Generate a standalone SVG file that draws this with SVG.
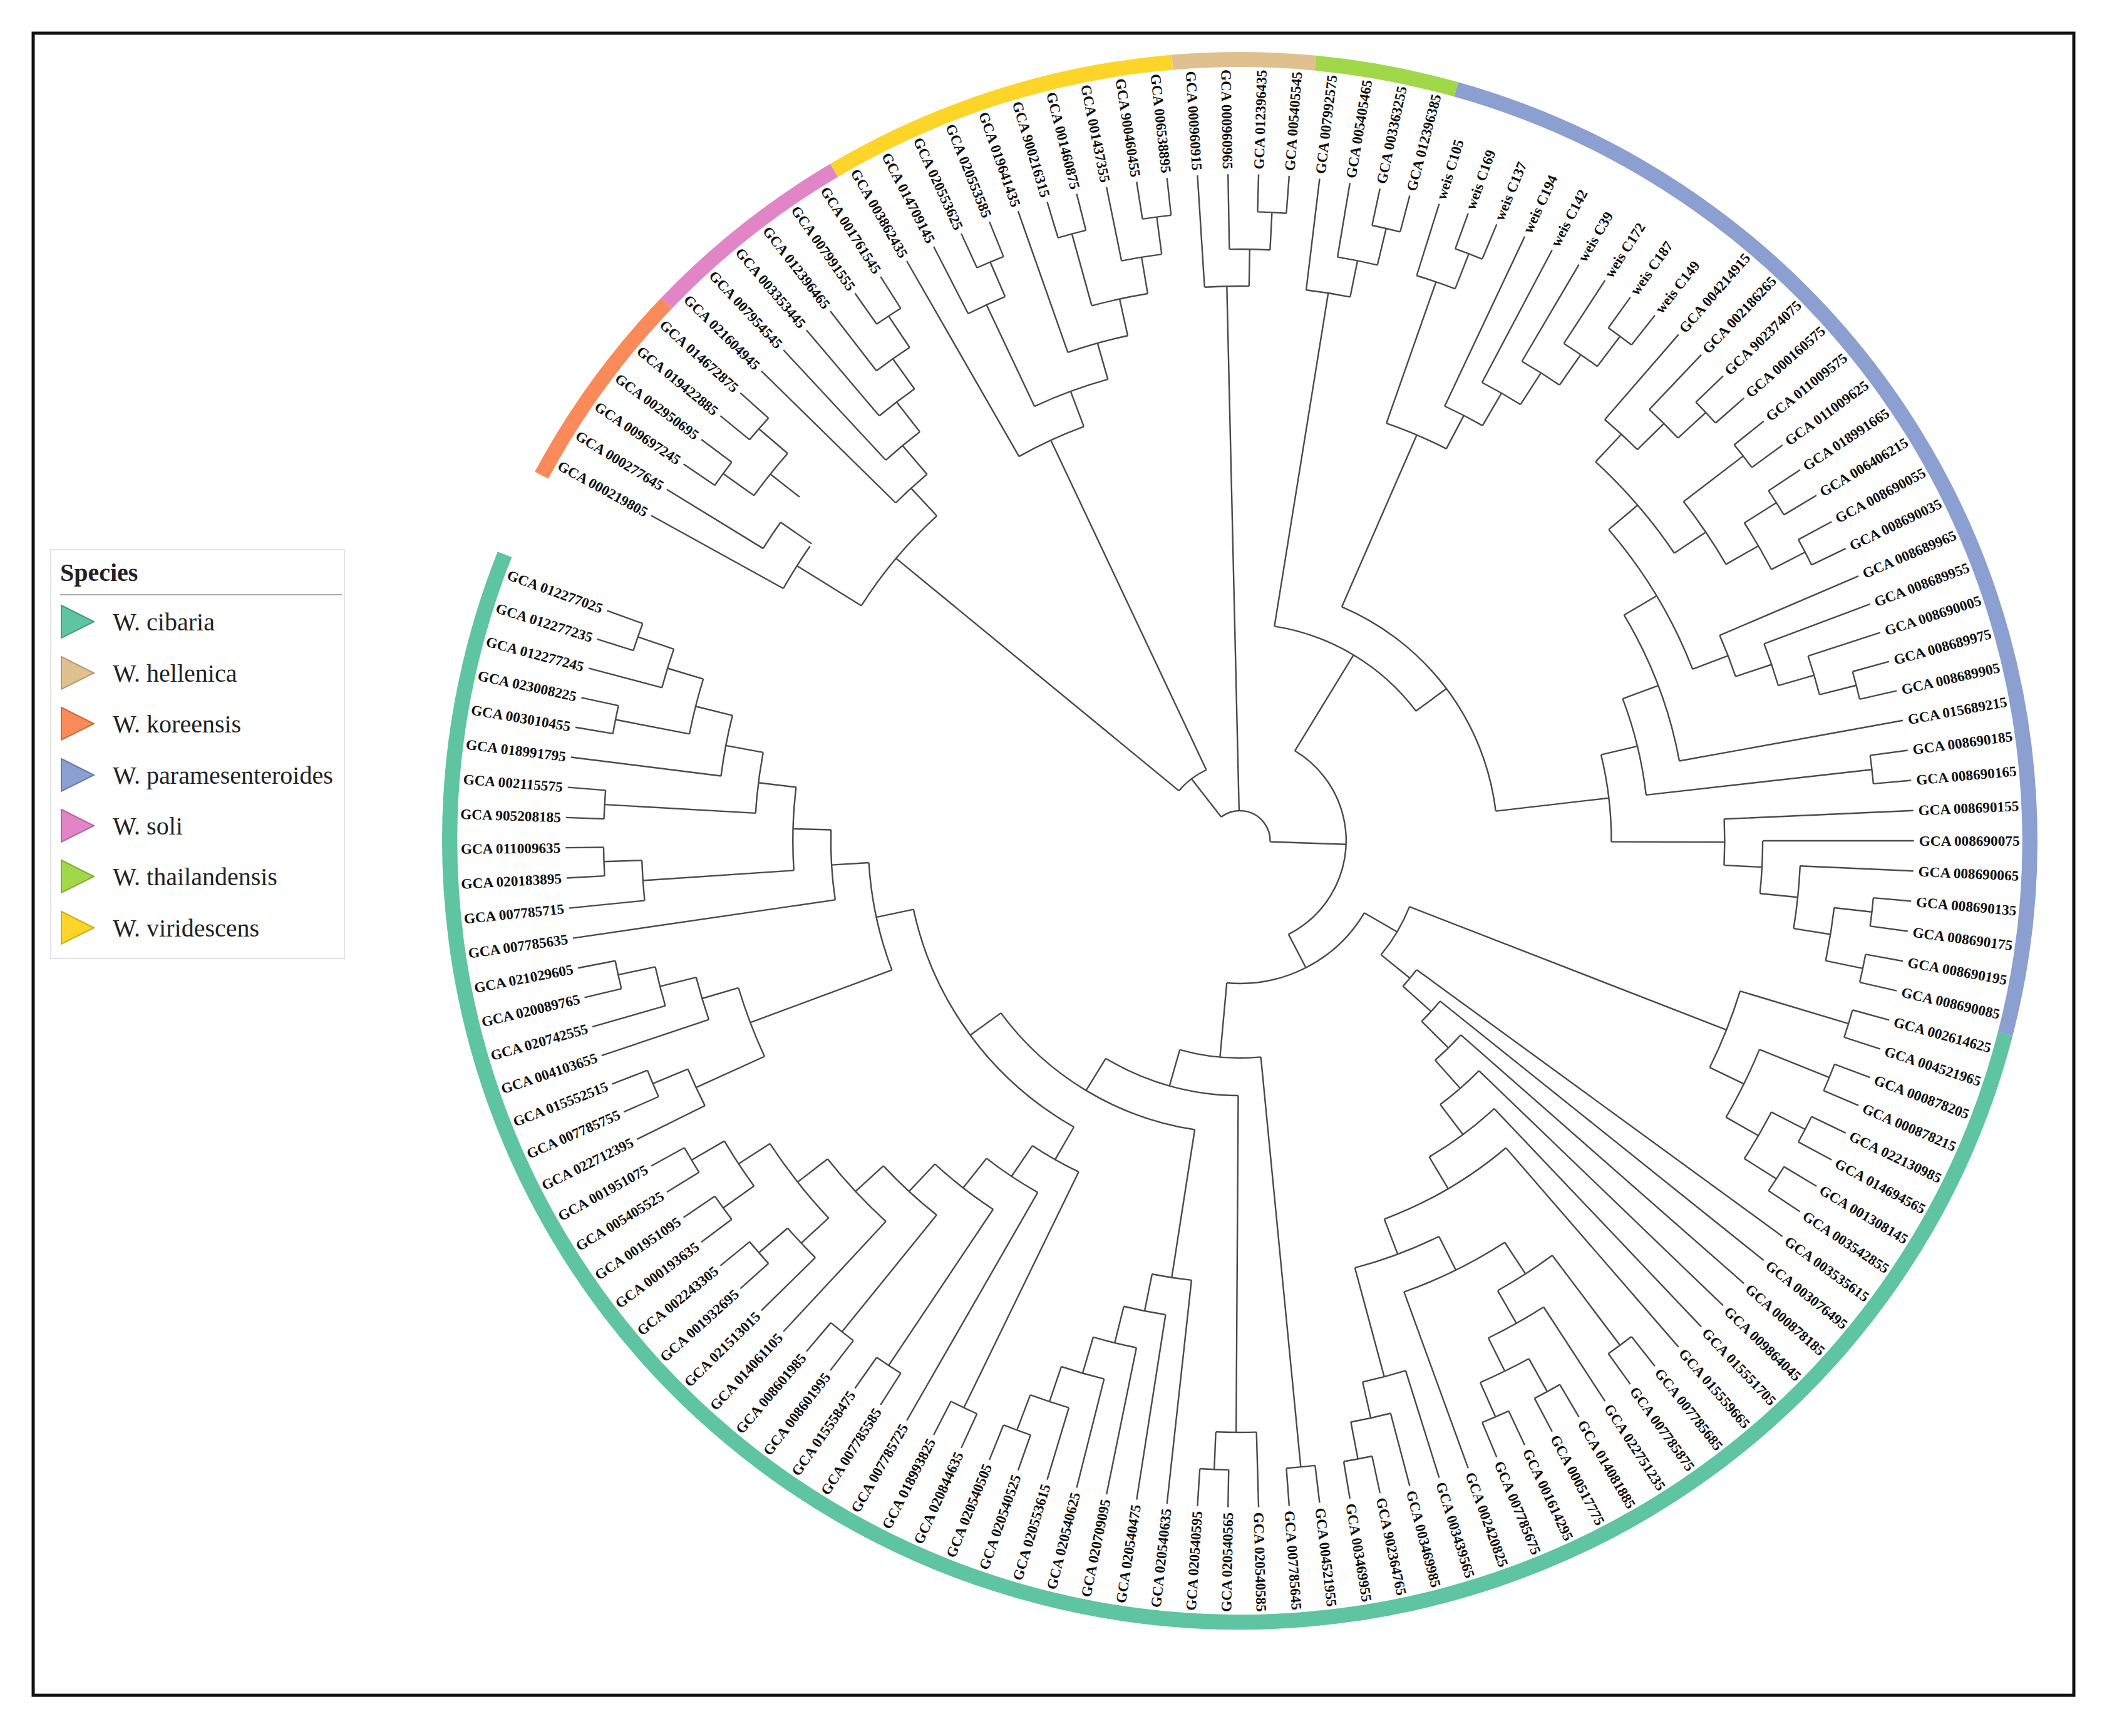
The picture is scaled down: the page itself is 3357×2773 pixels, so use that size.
<svg xmlns="http://www.w3.org/2000/svg" width="3357" height="2773" viewBox="0 0 3357 2773">
<style>
.t{font-family:"Liberation Serif","Times New Roman",serif;font-weight:bold;font-size:23px;fill:#111;dominant-baseline:central}
.l{text-anchor:end}
.lg{font-family:"Liberation Serif","Times New Roman",serif;font-size:40px;fill:#222}
</style>
<rect width="3357" height="2773" fill="#fff"/>
<rect x="53" y="53" width="3259" height="2655" fill="none" stroke="#111" stroke-width="5"/>
<g transform="translate(1980 1343) scale(1.011 1) rotate(200.2)">
<g id="ring" fill="none" stroke-width="24">
<circle r="1248" pathLength="360" stroke="#5ec4a1" stroke-dasharray="187.2 360" transform="rotate(-185.9)"/>
<circle r="1248" pathLength="360" stroke="#8b9fd0" stroke-dasharray="88.4 360" transform="rotate(-274.3)"/>
<circle r="1248" pathLength="360" stroke="#a0d84a" stroke-dasharray="10.4 360" transform="rotate(-284.7)"/>
<circle r="1248" pathLength="360" stroke="#dfc08f" stroke-dasharray="10.4 360" transform="rotate(-295.1)"/>
<circle r="1248" pathLength="360" stroke="#fdd528" stroke-dasharray="26 360" transform="rotate(-321.1)"/>
<circle r="1248" pathLength="360" stroke="#e185c6" stroke-dasharray="15.6 360" transform="rotate(-336.7)"/>
<circle r="1248" pathLength="360" stroke="#fa8a5a" stroke-dasharray="15.6 360" transform="rotate(-352.3)"/>
</g>
<g id="connectors" fill="none" stroke="#4a4a4a" stroke-width="2.4">
<path transform="rotate(0)" d="M1005 0H1065"/>
<path transform="rotate(-2.6)" d="M1005 0H1065"/>
<path transform="rotate(-5.2)" d="M945 0H1065"/>
<path transform="rotate(-7.8)" d="M1005 0H1065"/>
<path transform="rotate(-10.4)" d="M1005 0H1065"/>
<path transform="rotate(-13)" d="M826 0H1065"/>
<path transform="rotate(-15.6)" d="M1005 0H1065"/>
<path transform="rotate(-18.2)" d="M1005 0H1065"/>
<path transform="rotate(-20.8)" d="M1005 0H1065"/>
<path transform="rotate(-23.4)" d="M1005 0H1065"/>
<path transform="rotate(-26)" d="M945 0H1065"/>
<path transform="rotate(-28.6)" d="M646 0H1065"/>
<path transform="rotate(-31.2)" d="M1005 0H1065"/>
<path transform="rotate(-33.8)" d="M1005 0H1065"/>
<path transform="rotate(-36.4)" d="M945 0H1065"/>
<path transform="rotate(-39)" d="M886 0H1065"/>
<path transform="rotate(-41.6)" d="M1005 0H1065"/>
<path transform="rotate(-44.2)" d="M1005 0H1065"/>
<path transform="rotate(-46.8)" d="M945 0H1065"/>
<path transform="rotate(-49.4)" d="M1005 0H1065"/>
<path transform="rotate(-52)" d="M1005 0H1065"/>
<path transform="rotate(-54.6)" d="M1005 0H1065"/>
<path transform="rotate(-57.2)" d="M1005 0H1065"/>
<path transform="rotate(-59.8)" d="M1005 0H1065"/>
<path transform="rotate(-62.4)" d="M1005 0H1065"/>
<path transform="rotate(-65)" d="M945 0H1065"/>
<path transform="rotate(-67.6)" d="M826 0H1065"/>
<path transform="rotate(-70.2)" d="M1005 0H1065"/>
<path transform="rotate(-72.8)" d="M1005 0H1065"/>
<path transform="rotate(-75.4)" d="M1005 0H1065"/>
<path transform="rotate(-78)" d="M1005 0H1065"/>
<path transform="rotate(-80.6)" d="M646 0H1065"/>
<path transform="rotate(-83.2)" d="M1005 0H1065"/>
<path transform="rotate(-85.8)" d="M1005 0H1065"/>
<path transform="rotate(-88.4)" d="M1005 0H1065"/>
<path transform="rotate(-91)" d="M1005 0H1065"/>
<path transform="rotate(-93.6)" d="M945 0H1065"/>
<path transform="rotate(-96.2)" d="M886 0H1065"/>
<path transform="rotate(-98.8)" d="M826 0H1065"/>
<path transform="rotate(-101.4)" d="M766 0H1065"/>
<path transform="rotate(-104)" d="M706 0H1065"/>
<path transform="rotate(-106.6)" d="M1005 0H1065"/>
<path transform="rotate(-109.2)" d="M1005 0H1065"/>
<path transform="rotate(-111.8)" d="M945 0H1065"/>
<path transform="rotate(-114.4)" d="M1005 0H1065"/>
<path transform="rotate(-117)" d="M1005 0H1065"/>
<path transform="rotate(-119.6)" d="M1005 0H1065"/>
<path transform="rotate(-122.2)" d="M1005 0H1065"/>
<path transform="rotate(-124.8)" d="M945 0H1065"/>
<path transform="rotate(-127.4)" d="M886 0H1065"/>
<path transform="rotate(-130)" d="M766 0H1065"/>
<path transform="rotate(-132.6)" d="M1005 0H1065"/>
<path transform="rotate(-135.2)" d="M1005 0H1065"/>
<path transform="rotate(-137.8)" d="M1005 0H1065"/>
<path transform="rotate(-140.4)" d="M1005 0H1065"/>
<path transform="rotate(-143)" d="M886 0H1065"/>
<path transform="rotate(-145.6)" d="M1005 0H1065"/>
<path transform="rotate(-148.2)" d="M1005 0H1065"/>
<path transform="rotate(-150.8)" d="M646 0H1065"/>
<path transform="rotate(-153.4)" d="M587 0H1065"/>
<path transform="rotate(-156)" d="M527 0H1065"/>
<path transform="rotate(-158.6)" d="M467 0H1065"/>
<path transform="rotate(-161.2)" d="M407 0H1065"/>
<path transform="rotate(-163.8)" d="M347 0H1065"/>
<path transform="rotate(-166.4)" d="M1005 0H1065"/>
<path transform="rotate(-169)" d="M1005 0H1065"/>
<path transform="rotate(-171.6)" d="M1005 0H1065"/>
<path transform="rotate(-174.2)" d="M1005 0H1065"/>
<path transform="rotate(-176.8)" d="M1005 0H1065"/>
<path transform="rotate(-179.4)" d="M1005 0H1065"/>
<path transform="rotate(-182)" d="M1005 0H1065"/>
<path transform="rotate(-184.6)" d="M1005 0H1065"/>
<path transform="rotate(-187.2)" d="M1005 0H1065"/>
<path transform="rotate(-189.8)" d="M1005 0H1065"/>
<path transform="rotate(-192.4)" d="M1005 0H1065"/>
<path transform="rotate(-195)" d="M1005 0H1065"/>
<path transform="rotate(-197.6)" d="M886 0H1065"/>
<path transform="rotate(-200.2)" d="M826 0H1065"/>
<path transform="rotate(-202.8)" d="M766 0H1065"/>
<path transform="rotate(-205.4)" d="M1005 0H1065"/>
<path transform="rotate(-208)" d="M1005 0H1065"/>
<path transform="rotate(-210.6)" d="M706 0H1065"/>
<path transform="rotate(-213.2)" d="M1005 0H1065"/>
<path transform="rotate(-215.8)" d="M1005 0H1065"/>
<path transform="rotate(-218.4)" d="M945 0H1065"/>
<path transform="rotate(-221)" d="M886 0H1065"/>
<path transform="rotate(-223.6)" d="M826 0H1065"/>
<path transform="rotate(-226.2)" d="M1005 0H1065"/>
<path transform="rotate(-228.8)" d="M1005 0H1065"/>
<path transform="rotate(-231.4)" d="M1005 0H1065"/>
<path transform="rotate(-234)" d="M1005 0H1065"/>
<path transform="rotate(-236.6)" d="M1005 0H1065"/>
<path transform="rotate(-239.2)" d="M1005 0H1065"/>
<path transform="rotate(-241.8)" d="M1005 0H1065"/>
<path transform="rotate(-244.4)" d="M1005 0H1065"/>
<path transform="rotate(-247)" d="M945 0H1065"/>
<path transform="rotate(-249.6)" d="M886 0H1065"/>
<path transform="rotate(-252.2)" d="M1005 0H1065"/>
<path transform="rotate(-254.8)" d="M1005 0H1065"/>
<path transform="rotate(-257.4)" d="M945 0H1065"/>
<path transform="rotate(-260)" d="M886 0H1065"/>
<path transform="rotate(-262.6)" d="M826 0H1065"/>
<path transform="rotate(-265.2)" d="M766 0H1065"/>
<path transform="rotate(-267.8)" d="M1005 0H1065"/>
<path transform="rotate(-270.4)" d="M1005 0H1065"/>
<path transform="rotate(-273)" d="M945 0H1065"/>
<path transform="rotate(-275.6)" d="M1005 0H1065"/>
<path transform="rotate(-278.2)" d="M1005 0H1065"/>
<path transform="rotate(-280.8)" d="M945 0H1065"/>
<path transform="rotate(-283.4)" d="M886 0H1065"/>
<path transform="rotate(-286)" d="M1005 0H1065"/>
<path transform="rotate(-288.6)" d="M1005 0H1065"/>
<path transform="rotate(-291.2)" d="M945 0H1065"/>
<path transform="rotate(-293.8)" d="M886 0H1065"/>
<path transform="rotate(-296.4)" d="M1005 0H1065"/>
<path transform="rotate(-299)" d="M1005 0H1065"/>
<path transform="rotate(-301.6)" d="M945 0H1065"/>
<path transform="rotate(-304.2)" d="M1005 0H1065"/>
<path transform="rotate(-306.8)" d="M1005 0H1065"/>
<path transform="rotate(-309.4)" d="M826 0H1065"/>
<path transform="rotate(-312)" d="M1005 0H1065"/>
<path transform="rotate(-314.6)" d="M1005 0H1065"/>
<path transform="rotate(-317.2)" d="M945 0H1065"/>
<path transform="rotate(-319.8)" d="M706 0H1065"/>
<path transform="rotate(-322.4)" d="M1005 0H1065"/>
<path transform="rotate(-325)" d="M1005 0H1065"/>
<path transform="rotate(-327.6)" d="M945 0H1065"/>
<path transform="rotate(-330.2)" d="M886 0H1065"/>
<path transform="rotate(-332.8)" d="M826 0H1065"/>
<path transform="rotate(-335.4)" d="M766 0H1065"/>
<path transform="rotate(-338)" d="M1005 0H1065"/>
<path transform="rotate(-340.6)" d="M1005 0H1065"/>
<path transform="rotate(-343.2)" d="M1005 0H1065"/>
<path transform="rotate(-345.8)" d="M1005 0H1065"/>
<path transform="rotate(-348.4)" d="M886 0H1065"/>
<path transform="rotate(-351)" d="M826 0H1065"/>
<path transform="rotate(-1.3)" d="M945 0H1005"/>
<path transform="rotate(-3.25)" d="M886 0H945"/>
<path transform="rotate(-9.1)" d="M886 0H1005"/>
<path transform="rotate(-6.175)" d="M826 0H886"/>
<path transform="rotate(-9.5875)" d="M766 0H826"/>
<path transform="rotate(-16.9)" d="M766 0H1005"/>
<path transform="rotate(-13.24375)" d="M706 0H766"/>
<path transform="rotate(-22.1)" d="M945 0H1005"/>
<path transform="rotate(-24.05)" d="M706 0H945"/>
<path transform="rotate(-18.6469)" d="M646 0H706"/>
<path transform="rotate(-23.6234)" d="M587 0H646"/>
<path transform="rotate(-32.5)" d="M945 0H1005"/>
<path transform="rotate(-34.45)" d="M886 0H945"/>
<path transform="rotate(-36.725)" d="M826 0H886"/>
<path transform="rotate(-42.9)" d="M945 0H1005"/>
<path transform="rotate(-44.85)" d="M826 0H945"/>
<path transform="rotate(-40.7875)" d="M587 0H826"/>
<path transform="rotate(-32.2055)" d="M527 0H587"/>
<path transform="rotate(-50.7)" d="M945 0H1005"/>
<path transform="rotate(-55.9)" d="M945 0H1005"/>
<path transform="rotate(-53.3)" d="M886 0H945"/>
<path transform="rotate(-61.1)" d="M945 0H1005"/>
<path transform="rotate(-63.05)" d="M886 0H945"/>
<path transform="rotate(-58.175)" d="M826 0H886"/>
<path transform="rotate(-62.8875)" d="M766 0H826"/>
<path transform="rotate(-71.5)" d="M766 0H1005"/>
<path transform="rotate(-67.19375)" d="M706 0H766"/>
<path transform="rotate(-76.7)" d="M706 0H1005"/>
<path transform="rotate(-71.946875)" d="M646 0H706"/>
<path transform="rotate(-76.2734)" d="M587 0H646"/>
<path transform="rotate(-84.5)" d="M587 0H1005"/>
<path transform="rotate(-80.3867)" d="M527 0H587"/>
<path transform="rotate(-56.2961)" d="M467 0H527"/>
<path transform="rotate(-89.7)" d="M945 0H1005"/>
<path transform="rotate(-91.65)" d="M886 0H945"/>
<path transform="rotate(-93.925)" d="M826 0H886"/>
<path transform="rotate(-96.3625)" d="M766 0H826"/>
<path transform="rotate(-98.88125)" d="M706 0H766"/>
<path transform="rotate(-101.440625)" d="M467 0H706"/>
<path transform="rotate(-78.8684)" d="M407 0H467"/>
<path transform="rotate(-107.9)" d="M945 0H1005"/>
<path transform="rotate(-109.85)" d="M407 0H945"/>
<path transform="rotate(-94.3592)" d="M347 0H407"/>
<path transform="rotate(-115.7)" d="M347 0H1005"/>
<path transform="rotate(-105.0296)" d="M228 0H347"/>
<path transform="rotate(-120.9)" d="M945 0H1005"/>
<path transform="rotate(-122.85)" d="M886 0H945"/>
<path transform="rotate(-125.125)" d="M706 0H886"/>
<path transform="rotate(-133.9)" d="M945 0H1005"/>
<path transform="rotate(-139.1)" d="M945 0H1005"/>
<path transform="rotate(-136.5)" d="M886 0H945"/>
<path transform="rotate(-139.75)" d="M826 0H886"/>
<path transform="rotate(-146.9)" d="M826 0H1005"/>
<path transform="rotate(-143.325)" d="M766 0H826"/>
<path transform="rotate(-136.6625)" d="M706 0H766"/>
<path transform="rotate(-130.89375)" d="M646 0H706"/>
<path transform="rotate(-140.846875)" d="M587 0H646"/>
<path transform="rotate(-147.1234)" d="M527 0H587"/>
<path transform="rotate(-151.5617)" d="M467 0H527"/>
<path transform="rotate(-155.0809)" d="M407 0H467"/>
<path transform="rotate(-158.1404)" d="M347 0H407"/>
<path transform="rotate(-160.9702)" d="M288 0H347"/>
<path transform="rotate(-167.7)" d="M945 0H1005"/>
<path transform="rotate(-172.9)" d="M945 0H1005"/>
<path transform="rotate(-170.3)" d="M886 0H945"/>
<path transform="rotate(-178.1)" d="M886 0H1005"/>
<path transform="rotate(-174.2)" d="M826 0H886"/>
<path transform="rotate(-183.3)" d="M826 0H1005"/>
<path transform="rotate(-178.75)" d="M288 0H826"/>
<path transform="rotate(-169.8601)" d="M228 0H288"/>
<path transform="rotate(-137.4448)" d="M168 0H228"/>
<path transform="rotate(-188.5)" d="M945 0H1005"/>
<path transform="rotate(-193.7)" d="M945 0H1005"/>
<path transform="rotate(-191.1)" d="M886 0H945"/>
<path transform="rotate(-194.35)" d="M826 0H886"/>
<path transform="rotate(-197.275)" d="M766 0H826"/>
<path transform="rotate(-200.0375)" d="M587 0H766"/>
<path transform="rotate(-206.7)" d="M646 0H1005"/>
<path transform="rotate(-214.5)" d="M945 0H1005"/>
<path transform="rotate(-216.45)" d="M886 0H945"/>
<path transform="rotate(-218.725)" d="M826 0H886"/>
<path transform="rotate(-221.1625)" d="M766 0H826"/>
<path transform="rotate(-227.5)" d="M945 0H1005"/>
<path transform="rotate(-232.7)" d="M945 0H1005"/>
<path transform="rotate(-230.1)" d="M886 0H945"/>
<path transform="rotate(-237.9)" d="M886 0H1005"/>
<path transform="rotate(-234)" d="M826 0H886"/>
<path transform="rotate(-243.1)" d="M945 0H1005"/>
<path transform="rotate(-245.05)" d="M886 0H945"/>
<path transform="rotate(-247.325)" d="M826 0H886"/>
<path transform="rotate(-240.6625)" d="M766 0H826"/>
<path transform="rotate(-230.9125)" d="M706 0H766"/>
<path transform="rotate(-220.75625)" d="M646 0H706"/>
<path transform="rotate(-213.728)" d="M587 0H646"/>
<path transform="rotate(-206.8828)" d="M407 0H587"/>
<path transform="rotate(-253.5)" d="M945 0H1005"/>
<path transform="rotate(-255.45)" d="M886 0H945"/>
<path transform="rotate(-257.725)" d="M826 0H886"/>
<path transform="rotate(-260.1625)" d="M766 0H826"/>
<path transform="rotate(-262.68125)" d="M706 0H766"/>
<path transform="rotate(-269.1)" d="M945 0H1005"/>
<path transform="rotate(-271.05)" d="M706 0H945"/>
<path transform="rotate(-266.865625)" d="M407 0H706"/>
<path transform="rotate(-236.8742)" d="M347 0H407"/>
<path transform="rotate(-276.9)" d="M945 0H1005"/>
<path transform="rotate(-278.85)" d="M886 0H945"/>
<path transform="rotate(-281.125)" d="M347 0H886"/>
<path transform="rotate(-258.9996)" d="M168 0H347"/>
<path transform="rotate(-198.2222)" d="M48 0H168"/>
<path transform="rotate(-287.3)" d="M945 0H1005"/>
<path transform="rotate(-289.25)" d="M886 0H945"/>
<path transform="rotate(-291.525)" d="M48 0H886"/>
<path transform="rotate(-297.7)" d="M945 0H1005"/>
<path transform="rotate(-299.65)" d="M886 0H945"/>
<path transform="rotate(-305.5)" d="M886 0H1005"/>
<path transform="rotate(-302.575)" d="M826 0H886"/>
<path transform="rotate(-305.9875)" d="M766 0H826"/>
<path transform="rotate(-313.3)" d="M945 0H1005"/>
<path transform="rotate(-315.25)" d="M766 0H945"/>
<path transform="rotate(-310.61875)" d="M706 0H766"/>
<path transform="rotate(-315.209375)" d="M125 0H706"/>
<path transform="rotate(-323.7)" d="M945 0H1005"/>
<path transform="rotate(-325.65)" d="M886 0H945"/>
<path transform="rotate(-327.925)" d="M826 0H886"/>
<path transform="rotate(-330.3625)" d="M766 0H826"/>
<path transform="rotate(-332.88125)" d="M706 0H766"/>
<path transform="rotate(-339.3)" d="M945 0H1005"/>
<path transform="rotate(-344.5)" d="M945 0H1005"/>
<path transform="rotate(-341.9)" d="M886 0H945"/>
<path transform="rotate(-345.15)" d="M826 0H886"/>
<path transform="rotate(-348.075)" d="M706 0H826"/>
<path transform="rotate(-340.478125)" d="M125 0H706"/>
<path transform="rotate(-327.84375)" d="M48 0H125"/>
<circle r="1005" pathLength="360" stroke-dasharray="2.6 360" transform="rotate(-2.6)"/>
<circle r="945" pathLength="360" stroke-dasharray="3.9 360" transform="rotate(-5.2)"/>
<circle r="1005" pathLength="360" stroke-dasharray="2.6 360" transform="rotate(-10.4)"/>
<circle r="886" pathLength="360" stroke-dasharray="5.85 360" transform="rotate(-9.1)"/>
<circle r="826" pathLength="360" stroke-dasharray="6.825 360" transform="rotate(-13)"/>
<circle r="1005" pathLength="360" stroke-dasharray="2.6 360" transform="rotate(-18.2)"/>
<circle r="766" pathLength="360" stroke-dasharray="7.3125 360" transform="rotate(-16.9)"/>
<circle r="1005" pathLength="360" stroke-dasharray="2.6 360" transform="rotate(-23.4)"/>
<circle r="945" pathLength="360" stroke-dasharray="3.9 360" transform="rotate(-26)"/>
<circle r="706" pathLength="360" stroke-dasharray="10.80625 360" transform="rotate(-24.05)"/>
<circle r="646" pathLength="360" stroke-dasharray="9.953 360" transform="rotate(-28.6)"/>
<circle r="1005" pathLength="360" stroke-dasharray="2.6 360" transform="rotate(-33.8)"/>
<circle r="945" pathLength="360" stroke-dasharray="3.9 360" transform="rotate(-36.4)"/>
<circle r="886" pathLength="360" stroke-dasharray="4.55 360" transform="rotate(-39)"/>
<circle r="1005" pathLength="360" stroke-dasharray="2.6 360" transform="rotate(-44.2)"/>
<circle r="945" pathLength="360" stroke-dasharray="3.9 360" transform="rotate(-46.8)"/>
<circle r="826" pathLength="360" stroke-dasharray="8.125 360" transform="rotate(-44.85)"/>
<circle r="587" pathLength="360" stroke-dasharray="17.164 360" transform="rotate(-40.7875)"/>
<circle r="1005" pathLength="360" stroke-dasharray="2.6 360" transform="rotate(-52)"/>
<circle r="1005" pathLength="360" stroke-dasharray="2.6 360" transform="rotate(-57.2)"/>
<circle r="945" pathLength="360" stroke-dasharray="5.2 360" transform="rotate(-55.9)"/>
<circle r="1005" pathLength="360" stroke-dasharray="2.6 360" transform="rotate(-62.4)"/>
<circle r="945" pathLength="360" stroke-dasharray="3.9 360" transform="rotate(-65)"/>
<circle r="886" pathLength="360" stroke-dasharray="9.75 360" transform="rotate(-63.05)"/>
<circle r="826" pathLength="360" stroke-dasharray="9.425 360" transform="rotate(-67.6)"/>
<circle r="1005" pathLength="360" stroke-dasharray="2.6 360" transform="rotate(-72.8)"/>
<circle r="766" pathLength="360" stroke-dasharray="8.6125 360" transform="rotate(-71.5)"/>
<circle r="1005" pathLength="360" stroke-dasharray="2.6 360" transform="rotate(-78)"/>
<circle r="706" pathLength="360" stroke-dasharray="9.50625 360" transform="rotate(-76.7)"/>
<circle r="646" pathLength="360" stroke-dasharray="8.653 360" transform="rotate(-80.6)"/>
<circle r="1005" pathLength="360" stroke-dasharray="2.6 360" transform="rotate(-85.8)"/>
<circle r="587" pathLength="360" stroke-dasharray="8.2266 360" transform="rotate(-84.5)"/>
<circle r="527" pathLength="360" stroke-dasharray="48.18125 360" transform="rotate(-80.3867)"/>
<circle r="1005" pathLength="360" stroke-dasharray="2.6 360" transform="rotate(-91)"/>
<circle r="945" pathLength="360" stroke-dasharray="3.9 360" transform="rotate(-93.6)"/>
<circle r="886" pathLength="360" stroke-dasharray="4.55 360" transform="rotate(-96.2)"/>
<circle r="826" pathLength="360" stroke-dasharray="4.875 360" transform="rotate(-98.8)"/>
<circle r="766" pathLength="360" stroke-dasharray="5.0375 360" transform="rotate(-101.4)"/>
<circle r="706" pathLength="360" stroke-dasharray="5.11875 360" transform="rotate(-104)"/>
<circle r="467" pathLength="360" stroke-dasharray="45.1445 360" transform="rotate(-101.4406)"/>
<circle r="1005" pathLength="360" stroke-dasharray="2.6 360" transform="rotate(-109.2)"/>
<circle r="945" pathLength="360" stroke-dasharray="3.9 360" transform="rotate(-111.8)"/>
<circle r="407" pathLength="360" stroke-dasharray="30.9817 360" transform="rotate(-109.85)"/>
<circle r="1005" pathLength="360" stroke-dasharray="2.6 360" transform="rotate(-117)"/>
<circle r="347" pathLength="360" stroke-dasharray="21.3408 360" transform="rotate(-115.7)"/>
<circle r="1005" pathLength="360" stroke-dasharray="2.6 360" transform="rotate(-122.2)"/>
<circle r="945" pathLength="360" stroke-dasharray="3.9 360" transform="rotate(-124.8)"/>
<circle r="886" pathLength="360" stroke-dasharray="4.55 360" transform="rotate(-127.4)"/>
<circle r="1005" pathLength="360" stroke-dasharray="2.6 360" transform="rotate(-135.2)"/>
<circle r="1005" pathLength="360" stroke-dasharray="2.6 360" transform="rotate(-140.4)"/>
<circle r="945" pathLength="360" stroke-dasharray="5.2 360" transform="rotate(-139.1)"/>
<circle r="886" pathLength="360" stroke-dasharray="6.5 360" transform="rotate(-143)"/>
<circle r="1005" pathLength="360" stroke-dasharray="2.6 360" transform="rotate(-148.2)"/>
<circle r="826" pathLength="360" stroke-dasharray="7.15 360" transform="rotate(-146.9)"/>
<circle r="766" pathLength="360" stroke-dasharray="13.325 360" transform="rotate(-143.325)"/>
<circle r="706" pathLength="360" stroke-dasharray="11.5375 360" transform="rotate(-136.6625)"/>
<circle r="646" pathLength="360" stroke-dasharray="19.90625 360" transform="rotate(-150.8)"/>
<circle r="587" pathLength="360" stroke-dasharray="12.553 360" transform="rotate(-153.4)"/>
<circle r="527" pathLength="360" stroke-dasharray="8.8766 360" transform="rotate(-156)"/>
<circle r="467" pathLength="360" stroke-dasharray="7.0383 360" transform="rotate(-158.6)"/>
<circle r="407" pathLength="360" stroke-dasharray="6.1191 360" transform="rotate(-161.2)"/>
<circle r="347" pathLength="360" stroke-dasharray="5.6596 360" transform="rotate(-163.8)"/>
<circle r="1005" pathLength="360" stroke-dasharray="2.6 360" transform="rotate(-169)"/>
<circle r="1005" pathLength="360" stroke-dasharray="2.6 360" transform="rotate(-174.2)"/>
<circle r="945" pathLength="360" stroke-dasharray="5.2 360" transform="rotate(-172.9)"/>
<circle r="1005" pathLength="360" stroke-dasharray="2.6 360" transform="rotate(-179.4)"/>
<circle r="886" pathLength="360" stroke-dasharray="7.8 360" transform="rotate(-178.1)"/>
<circle r="1005" pathLength="360" stroke-dasharray="2.6 360" transform="rotate(-184.6)"/>
<circle r="826" pathLength="360" stroke-dasharray="9.1 360" transform="rotate(-183.3)"/>
<circle r="288" pathLength="360" stroke-dasharray="17.7798 360" transform="rotate(-178.75)"/>
<circle r="228" pathLength="360" stroke-dasharray="64.8305 360" transform="rotate(-169.8601)"/>
<circle r="1005" pathLength="360" stroke-dasharray="2.6 360" transform="rotate(-189.8)"/>
<circle r="1005" pathLength="360" stroke-dasharray="2.6 360" transform="rotate(-195)"/>
<circle r="945" pathLength="360" stroke-dasharray="5.2 360" transform="rotate(-193.7)"/>
<circle r="886" pathLength="360" stroke-dasharray="6.5 360" transform="rotate(-197.6)"/>
<circle r="826" pathLength="360" stroke-dasharray="5.85 360" transform="rotate(-200.2)"/>
<circle r="766" pathLength="360" stroke-dasharray="5.525 360" transform="rotate(-202.8)"/>
<circle r="1005" pathLength="360" stroke-dasharray="2.6 360" transform="rotate(-208)"/>
<circle r="1005" pathLength="360" stroke-dasharray="2.6 360" transform="rotate(-215.8)"/>
<circle r="945" pathLength="360" stroke-dasharray="3.9 360" transform="rotate(-218.4)"/>
<circle r="886" pathLength="360" stroke-dasharray="4.55 360" transform="rotate(-221)"/>
<circle r="826" pathLength="360" stroke-dasharray="4.875 360" transform="rotate(-223.6)"/>
<circle r="1005" pathLength="360" stroke-dasharray="2.6 360" transform="rotate(-228.8)"/>
<circle r="1005" pathLength="360" stroke-dasharray="2.6 360" transform="rotate(-234)"/>
<circle r="945" pathLength="360" stroke-dasharray="5.2 360" transform="rotate(-232.7)"/>
<circle r="1005" pathLength="360" stroke-dasharray="2.6 360" transform="rotate(-239.2)"/>
<circle r="886" pathLength="360" stroke-dasharray="7.8 360" transform="rotate(-237.9)"/>
<circle r="1005" pathLength="360" stroke-dasharray="2.6 360" transform="rotate(-244.4)"/>
<circle r="945" pathLength="360" stroke-dasharray="3.9 360" transform="rotate(-247)"/>
<circle r="886" pathLength="360" stroke-dasharray="4.55 360" transform="rotate(-249.6)"/>
<circle r="826" pathLength="360" stroke-dasharray="13.325 360" transform="rotate(-247.325)"/>
<circle r="766" pathLength="360" stroke-dasharray="19.5 360" transform="rotate(-240.6625)"/>
<circle r="706" pathLength="360" stroke-dasharray="20.3125 360" transform="rotate(-230.9125)"/>
<circle r="646" pathLength="360" stroke-dasharray="14.05625 360" transform="rotate(-220.75625)"/>
<circle r="587" pathLength="360" stroke-dasharray="13.6906 360" transform="rotate(-213.728)"/>
<circle r="1005" pathLength="360" stroke-dasharray="2.6 360" transform="rotate(-254.8)"/>
<circle r="945" pathLength="360" stroke-dasharray="3.9 360" transform="rotate(-257.4)"/>
<circle r="886" pathLength="360" stroke-dasharray="4.55 360" transform="rotate(-260)"/>
<circle r="826" pathLength="360" stroke-dasharray="4.875 360" transform="rotate(-262.6)"/>
<circle r="766" pathLength="360" stroke-dasharray="5.0375 360" transform="rotate(-265.2)"/>
<circle r="1005" pathLength="360" stroke-dasharray="2.6 360" transform="rotate(-270.4)"/>
<circle r="945" pathLength="360" stroke-dasharray="3.9 360" transform="rotate(-273)"/>
<circle r="706" pathLength="360" stroke-dasharray="8.36875 360" transform="rotate(-271.05)"/>
<circle r="407" pathLength="360" stroke-dasharray="59.9828 360" transform="rotate(-266.8656)"/>
<circle r="1005" pathLength="360" stroke-dasharray="2.6 360" transform="rotate(-278.2)"/>
<circle r="945" pathLength="360" stroke-dasharray="3.9 360" transform="rotate(-280.8)"/>
<circle r="886" pathLength="360" stroke-dasharray="4.55 360" transform="rotate(-283.4)"/>
<circle r="347" pathLength="360" stroke-dasharray="44.2508 360" transform="rotate(-281.125)"/>
<circle r="168" pathLength="360" stroke-dasharray="121.5548 360" transform="rotate(-258.9996)"/>
<circle r="1005" pathLength="360" stroke-dasharray="2.6 360" transform="rotate(-288.6)"/>
<circle r="945" pathLength="360" stroke-dasharray="3.9 360" transform="rotate(-291.2)"/>
<circle r="886" pathLength="360" stroke-dasharray="4.55 360" transform="rotate(-293.8)"/>
<circle r="1005" pathLength="360" stroke-dasharray="2.6 360" transform="rotate(-299)"/>
<circle r="945" pathLength="360" stroke-dasharray="3.9 360" transform="rotate(-301.6)"/>
<circle r="1005" pathLength="360" stroke-dasharray="2.6 360" transform="rotate(-306.8)"/>
<circle r="886" pathLength="360" stroke-dasharray="5.85 360" transform="rotate(-305.5)"/>
<circle r="826" pathLength="360" stroke-dasharray="6.825 360" transform="rotate(-309.4)"/>
<circle r="1005" pathLength="360" stroke-dasharray="2.6 360" transform="rotate(-314.6)"/>
<circle r="945" pathLength="360" stroke-dasharray="3.9 360" transform="rotate(-317.2)"/>
<circle r="766" pathLength="360" stroke-dasharray="9.2625 360" transform="rotate(-315.25)"/>
<circle r="706" pathLength="360" stroke-dasharray="9.18125 360" transform="rotate(-319.8)"/>
<circle r="1005" pathLength="360" stroke-dasharray="2.6 360" transform="rotate(-325)"/>
<circle r="945" pathLength="360" stroke-dasharray="3.9 360" transform="rotate(-327.6)"/>
<circle r="886" pathLength="360" stroke-dasharray="4.55 360" transform="rotate(-330.2)"/>
<circle r="826" pathLength="360" stroke-dasharray="4.875 360" transform="rotate(-332.8)"/>
<circle r="766" pathLength="360" stroke-dasharray="5.0375 360" transform="rotate(-335.4)"/>
<circle r="1005" pathLength="360" stroke-dasharray="2.6 360" transform="rotate(-340.6)"/>
<circle r="1005" pathLength="360" stroke-dasharray="2.6 360" transform="rotate(-345.8)"/>
<circle r="945" pathLength="360" stroke-dasharray="5.2 360" transform="rotate(-344.5)"/>
<circle r="886" pathLength="360" stroke-dasharray="3.25 360" transform="rotate(-348.4)"/>
<circle r="826" pathLength="360" stroke-dasharray="5.525 360" transform="rotate(-351)"/>
<circle r="706" pathLength="360" stroke-dasharray="15.19375 360" transform="rotate(-348.075)"/>
<circle r="125" pathLength="360" stroke-dasharray="25.26875 360" transform="rotate(-340.478)"/>
<circle r="48" pathLength="360" stroke-dasharray="129.6215 360" transform="rotate(-327.84375)"/>
</g>
<g id="leaves" class="t">
<g id="GCA_012277025" transform="rotate(0)"><text class="t l" x="-1073" transform="rotate(180)">GCA 012277025</text></g>
<g id="GCA_012277235" transform="rotate(-2.6)"><text class="t l" x="-1073" transform="rotate(180)">GCA 012277235</text></g>
<g id="GCA_012277245" transform="rotate(-5.2)"><text class="t l" x="-1073" transform="rotate(180)">GCA 012277245</text></g>
<g id="GCA_023008225" transform="rotate(-7.8)"><text class="t l" x="-1073" transform="rotate(180)">GCA 023008225</text></g>
<g id="GCA_003010455" transform="rotate(-10.4)"><text class="t l" x="-1073" transform="rotate(180)">GCA 003010455</text></g>
<g id="GCA_018991795" transform="rotate(-13)"><text class="t l" x="-1073" transform="rotate(180)">GCA 018991795</text></g>
<g id="GCA_002115575" transform="rotate(-15.6)"><text class="t l" x="-1073" transform="rotate(180)">GCA 002115575</text></g>
<g id="GCA_905208185" transform="rotate(-18.2)"><text class="t l" x="-1073" transform="rotate(180)">GCA 905208185</text></g>
<g id="GCA_011009635" transform="rotate(-20.8)"><text class="t l" x="-1073" transform="rotate(180)">GCA 011009635</text></g>
<g id="GCA_020183895" transform="rotate(-23.4)"><text class="t l" x="-1073" transform="rotate(180)">GCA 020183895</text></g>
<g id="GCA_007785715" transform="rotate(-26)"><text class="t l" x="-1073" transform="rotate(180)">GCA 007785715</text></g>
<g id="GCA_007785635" transform="rotate(-28.6)"><text class="t l" x="-1073" transform="rotate(180)">GCA 007785635</text></g>
<g id="GCA_021029605" transform="rotate(-31.2)"><text class="t l" x="-1073" transform="rotate(180)">GCA 021029605</text></g>
<g id="GCA_020089765" transform="rotate(-33.8)"><text class="t l" x="-1073" transform="rotate(180)">GCA 020089765</text></g>
<g id="GCA_020742555" transform="rotate(-36.4)"><text class="t l" x="-1073" transform="rotate(180)">GCA 020742555</text></g>
<g id="GCA_004103655" transform="rotate(-39)"><text class="t l" x="-1073" transform="rotate(180)">GCA 004103655</text></g>
<g id="GCA_015552515" transform="rotate(-41.6)"><text class="t l" x="-1073" transform="rotate(180)">GCA 015552515</text></g>
<g id="GCA_007785755" transform="rotate(-44.2)"><text class="t l" x="-1073" transform="rotate(180)">GCA 007785755</text></g>
<g id="GCA_022712395" transform="rotate(-46.8)"><text class="t l" x="-1073" transform="rotate(180)">GCA 022712395</text></g>
<g id="GCA_001951075" transform="rotate(-49.4)"><text class="t l" x="-1073" transform="rotate(180)">GCA 001951075</text></g>
<g id="GCA_005405525" transform="rotate(-52)"><text class="t l" x="-1073" transform="rotate(180)">GCA 005405525</text></g>
<g id="GCA_001951095" transform="rotate(-54.6)"><text class="t l" x="-1073" transform="rotate(180)">GCA 001951095</text></g>
<g id="GCA_000193635" transform="rotate(-57.2)"><text class="t l" x="-1073" transform="rotate(180)">GCA 000193635</text></g>
<g id="GCA_002243305" transform="rotate(-59.8)"><text class="t l" x="-1073" transform="rotate(180)">GCA 002243305</text></g>
<g id="GCA_001932695" transform="rotate(-62.4)"><text class="t l" x="-1073" transform="rotate(180)">GCA 001932695</text></g>
<g id="GCA_021513015" transform="rotate(-65)"><text class="t l" x="-1073" transform="rotate(180)">GCA 021513015</text></g>
<g id="GCA_014061105" transform="rotate(-67.6)"><text class="t l" x="-1073" transform="rotate(180)">GCA 014061105</text></g>
<g id="GCA_008601985" transform="rotate(-70.2)"><text class="t l" x="-1073" transform="rotate(180)">GCA 008601985</text></g>
<g id="GCA_008601995" transform="rotate(-72.8)"><text class="t l" x="-1073" transform="rotate(180)">GCA 008601995</text></g>
<g id="GCA_015558475" transform="rotate(-75.4)"><text class="t l" x="-1073" transform="rotate(180)">GCA 015558475</text></g>
<g id="GCA_007785585" transform="rotate(-78)"><text class="t l" x="-1073" transform="rotate(180)">GCA 007785585</text></g>
<g id="GCA_007785725" transform="rotate(-80.6)"><text class="t l" x="-1073" transform="rotate(180)">GCA 007785725</text></g>
<g id="GCA_018993825" transform="rotate(-83.2)"><text class="t l" x="-1073" transform="rotate(180)">GCA 018993825</text></g>
<g id="GCA_020844635" transform="rotate(-85.8)"><text class="t l" x="-1073" transform="rotate(180)">GCA 020844635</text></g>
<g id="GCA_020540505" transform="rotate(-88.4)"><text class="t l" x="-1073" transform="rotate(180)">GCA 020540505</text></g>
<g id="GCA_020540525" transform="rotate(-91)"><text class="t l" x="-1073" transform="rotate(180)">GCA 020540525</text></g>
<g id="GCA_020553615" transform="rotate(-93.6)"><text class="t l" x="-1073" transform="rotate(180)">GCA 020553615</text></g>
<g id="GCA_020540625" transform="rotate(-96.2)"><text class="t l" x="-1073" transform="rotate(180)">GCA 020540625</text></g>
<g id="GCA_020709095" transform="rotate(-98.8)"><text class="t l" x="-1073" transform="rotate(180)">GCA 020709095</text></g>
<g id="GCA_020540475" transform="rotate(-101.4)"><text class="t l" x="-1073" transform="rotate(180)">GCA 020540475</text></g>
<g id="GCA_020540635" transform="rotate(-104)"><text class="t l" x="-1073" transform="rotate(180)">GCA 020540635</text></g>
<g id="GCA_020540595" transform="rotate(-106.6)"><text class="t l" x="-1073" transform="rotate(180)">GCA 020540595</text></g>
<g id="GCA_020540565" transform="rotate(-109.2)"><text class="t l" x="-1073" transform="rotate(180)">GCA 020540565</text></g>
<g id="GCA_020540585" transform="rotate(-111.8)"><text class="t" x="1073">GCA 020540585</text></g>
<g id="GCA_007785645" transform="rotate(-114.4)"><text class="t" x="1073">GCA 007785645</text></g>
<g id="GCA_004521955" transform="rotate(-117)"><text class="t" x="1073">GCA 004521955</text></g>
<g id="GCA_003469955" transform="rotate(-119.6)"><text class="t" x="1073">GCA 003469955</text></g>
<g id="GCA_902364765" transform="rotate(-122.2)"><text class="t" x="1073">GCA 902364765</text></g>
<g id="GCA_003469985" transform="rotate(-124.8)"><text class="t" x="1073">GCA 003469985</text></g>
<g id="GCA_003439565" transform="rotate(-127.4)"><text class="t" x="1073">GCA 003439565</text></g>
<g id="GCA_002420825" transform="rotate(-130)"><text class="t" x="1073">GCA 002420825</text></g>
<g id="GCA_007785675" transform="rotate(-132.6)"><text class="t" x="1073">GCA 007785675</text></g>
<g id="GCA_001614295" transform="rotate(-135.2)"><text class="t" x="1073">GCA 001614295</text></g>
<g id="GCA_000517775" transform="rotate(-137.8)"><text class="t" x="1073">GCA 000517775</text></g>
<g id="GCA_014081885" transform="rotate(-140.4)"><text class="t" x="1073">GCA 014081885</text></g>
<g id="GCA_022751235" transform="rotate(-143)"><text class="t" x="1073">GCA 022751235</text></g>
<g id="GCA_007785875" transform="rotate(-145.6)"><text class="t" x="1073">GCA 007785875</text></g>
<g id="GCA_007785685" transform="rotate(-148.2)"><text class="t" x="1073">GCA 007785685</text></g>
<g id="GCA_015559665" transform="rotate(-150.8)"><text class="t" x="1073">GCA 015559665</text></g>
<g id="GCA_015551705" transform="rotate(-153.4)"><text class="t" x="1073">GCA 015551705</text></g>
<g id="GCA_009864045" transform="rotate(-156)"><text class="t" x="1073">GCA 009864045</text></g>
<g id="GCA_000878185" transform="rotate(-158.6)"><text class="t" x="1073">GCA 000878185</text></g>
<g id="GCA_003076495" transform="rotate(-161.2)"><text class="t" x="1073">GCA 003076495</text></g>
<g id="GCA_003535615" transform="rotate(-163.8)"><text class="t" x="1073">GCA 003535615</text></g>
<g id="GCA_003542855" transform="rotate(-166.4)"><text class="t" x="1073">GCA 003542855</text></g>
<g id="GCA_001308145" transform="rotate(-169)"><text class="t" x="1073">GCA 001308145</text></g>
<g id="GCA_014694565" transform="rotate(-171.6)"><text class="t" x="1073">GCA 014694565</text></g>
<g id="GCA_022130985" transform="rotate(-174.2)"><text class="t" x="1073">GCA 022130985</text></g>
<g id="GCA_000878215" transform="rotate(-176.8)"><text class="t" x="1073">GCA 000878215</text></g>
<g id="GCA_000878205" transform="rotate(-179.4)"><text class="t" x="1073">GCA 000878205</text></g>
<g id="GCA_004521965" transform="rotate(-182)"><text class="t" x="1073">GCA 004521965</text></g>
<g id="GCA_002614625" transform="rotate(-184.6)"><text class="t" x="1073">GCA 002614625</text></g>
<g id="GCA_008690085" transform="rotate(-187.2)"><text class="t" x="1073">GCA 008690085</text></g>
<g id="GCA_008690195" transform="rotate(-189.8)"><text class="t" x="1073">GCA 008690195</text></g>
<g id="GCA_008690175" transform="rotate(-192.4)"><text class="t" x="1073">GCA 008690175</text></g>
<g id="GCA_008690135" transform="rotate(-195)"><text class="t" x="1073">GCA 008690135</text></g>
<g id="GCA_008690065" transform="rotate(-197.6)"><text class="t" x="1073">GCA 008690065</text></g>
<g id="GCA_008690075" transform="rotate(-200.2)"><text class="t" x="1073">GCA 008690075</text></g>
<g id="GCA_008690155" transform="rotate(-202.8)"><text class="t" x="1073">GCA 008690155</text></g>
<g id="GCA_008690165" transform="rotate(-205.4)"><text class="t" x="1073">GCA 008690165</text></g>
<g id="GCA_008690185" transform="rotate(-208)"><text class="t" x="1073">GCA 008690185</text></g>
<g id="GCA_015689215" transform="rotate(-210.6)"><text class="t" x="1073">GCA 015689215</text></g>
<g id="GCA_008689905" transform="rotate(-213.2)"><text class="t" x="1073">GCA 008689905</text></g>
<g id="GCA_008689975" transform="rotate(-215.8)"><text class="t" x="1073">GCA 008689975</text></g>
<g id="GCA_008690005" transform="rotate(-218.4)"><text class="t" x="1073">GCA 008690005</text></g>
<g id="GCA_008689955" transform="rotate(-221)"><text class="t" x="1073">GCA 008689955</text></g>
<g id="GCA_008689965" transform="rotate(-223.6)"><text class="t" x="1073">GCA 008689965</text></g>
<g id="GCA_008690035" transform="rotate(-226.2)"><text class="t" x="1073">GCA 008690035</text></g>
<g id="GCA_008690055" transform="rotate(-228.8)"><text class="t" x="1073">GCA 008690055</text></g>
<g id="GCA_006406215" transform="rotate(-231.4)"><text class="t" x="1073">GCA 006406215</text></g>
<g id="GCA_018991665" transform="rotate(-234)"><text class="t" x="1073">GCA 018991665</text></g>
<g id="GCA_011009625" transform="rotate(-236.6)"><text class="t" x="1073">GCA 011009625</text></g>
<g id="GCA_011009575" transform="rotate(-239.2)"><text class="t" x="1073">GCA 011009575</text></g>
<g id="GCA_000160575" transform="rotate(-241.8)"><text class="t" x="1073">GCA 000160575</text></g>
<g id="GCA_902374075" transform="rotate(-244.4)"><text class="t" x="1073">GCA 902374075</text></g>
<g id="GCA_002186265" transform="rotate(-247)"><text class="t" x="1073">GCA 002186265</text></g>
<g id="GCA_004214915" transform="rotate(-249.6)"><text class="t" x="1073">GCA 004214915</text></g>
<g id="weis_C149" transform="rotate(-252.2)"><text class="t" x="1073">weis C149</text></g>
<g id="weis_C187" transform="rotate(-254.8)"><text class="t" x="1073">weis C187</text></g>
<g id="weis_C172" transform="rotate(-257.4)"><text class="t" x="1073">weis C172</text></g>
<g id="weis_C39" transform="rotate(-260)"><text class="t" x="1073">weis C39</text></g>
<g id="weis_C142" transform="rotate(-262.6)"><text class="t" x="1073">weis C142</text></g>
<g id="weis_C194" transform="rotate(-265.2)"><text class="t" x="1073">weis C194</text></g>
<g id="weis_C137" transform="rotate(-267.8)"><text class="t" x="1073">weis C137</text></g>
<g id="weis_C169" transform="rotate(-270.4)"><text class="t" x="1073">weis C169</text></g>
<g id="weis_C105" transform="rotate(-273)"><text class="t" x="1073">weis C105</text></g>
<g id="GCA_012396385" transform="rotate(-275.6)"><text class="t" x="1073">GCA 012396385</text></g>
<g id="GCA_003363255" transform="rotate(-278.2)"><text class="t" x="1073">GCA 003363255</text></g>
<g id="GCA_005405465" transform="rotate(-280.8)"><text class="t" x="1073">GCA 005405465</text></g>
<g id="GCA_007992575" transform="rotate(-283.4)"><text class="t" x="1073">GCA 007992575</text></g>
<g id="GCA_005405545" transform="rotate(-286)"><text class="t" x="1073">GCA 005405545</text></g>
<g id="GCA_012396435" transform="rotate(-288.6)"><text class="t" x="1073">GCA 012396435</text></g>
<g id="GCA_000960965" transform="rotate(-291.2)"><text class="t l" x="-1073" transform="rotate(180)">GCA 000960965</text></g>
<g id="GCA_000960915" transform="rotate(-293.8)"><text class="t l" x="-1073" transform="rotate(180)">GCA 000960915</text></g>
<g id="GCA_006538895" transform="rotate(-296.4)"><text class="t l" x="-1073" transform="rotate(180)">GCA 006538895</text></g>
<g id="GCA_900460455" transform="rotate(-299)"><text class="t l" x="-1073" transform="rotate(180)">GCA 900460455</text></g>
<g id="GCA_001437355" transform="rotate(-301.6)"><text class="t l" x="-1073" transform="rotate(180)">GCA 001437355</text></g>
<g id="GCA_001460875" transform="rotate(-304.2)"><text class="t l" x="-1073" transform="rotate(180)">GCA 001460875</text></g>
<g id="GCA_900216315" transform="rotate(-306.8)"><text class="t l" x="-1073" transform="rotate(180)">GCA 900216315</text></g>
<g id="GCA_019641435" transform="rotate(-309.4)"><text class="t l" x="-1073" transform="rotate(180)">GCA 019641435</text></g>
<g id="GCA_020553585" transform="rotate(-312)"><text class="t l" x="-1073" transform="rotate(180)">GCA 020553585</text></g>
<g id="GCA_020553625" transform="rotate(-314.6)"><text class="t l" x="-1073" transform="rotate(180)">GCA 020553625</text></g>
<g id="GCA_014709145" transform="rotate(-317.2)"><text class="t l" x="-1073" transform="rotate(180)">GCA 014709145</text></g>
<g id="GCA_003862435" transform="rotate(-319.8)"><text class="t l" x="-1073" transform="rotate(180)">GCA 003862435</text></g>
<g id="GCA_001761545" transform="rotate(-322.4)"><text class="t l" x="-1073" transform="rotate(180)">GCA 001761545</text></g>
<g id="GCA_007991555" transform="rotate(-325)"><text class="t l" x="-1073" transform="rotate(180)">GCA 007991555</text></g>
<g id="GCA_012396465" transform="rotate(-327.6)"><text class="t l" x="-1073" transform="rotate(180)">GCA 012396465</text></g>
<g id="GCA_003353445" transform="rotate(-330.2)"><text class="t l" x="-1073" transform="rotate(180)">GCA 003353445</text></g>
<g id="GCA_007954545" transform="rotate(-332.8)"><text class="t l" x="-1073" transform="rotate(180)">GCA 007954545</text></g>
<g id="GCA_021604945" transform="rotate(-335.4)"><text class="t l" x="-1073" transform="rotate(180)">GCA 021604945</text></g>
<g id="GCA_014672875" transform="rotate(-338)"><text class="t l" x="-1073" transform="rotate(180)">GCA 014672875</text></g>
<g id="GCA_019422885" transform="rotate(-340.6)"><text class="t l" x="-1073" transform="rotate(180)">GCA 019422885</text></g>
<g id="GCA_002950695" transform="rotate(-343.2)"><text class="t l" x="-1073" transform="rotate(180)">GCA 002950695</text></g>
<g id="GCA_009697245" transform="rotate(-345.8)"><text class="t l" x="-1073" transform="rotate(180)">GCA 009697245</text></g>
<g id="GCA_000277645" transform="rotate(-348.4)"><text class="t l" x="-1073" transform="rotate(180)">GCA 000277645</text></g>
<g id="GCA_000219805" transform="rotate(-351)"><text class="t l" x="-1073" transform="rotate(180)">GCA 000219805</text></g>
</g>
</g>
<g id="legend">
<rect x="81" y="878" width="469" height="653" fill="#fff" stroke="#e4e4e4" stroke-width="2"/>
<text class="lg" x="96" y="928" font-weight="bold" font-size="41">Species</text>
<line x1="96" y1="950" x2="546" y2="950" stroke="#aaa" stroke-width="2"/>
<g id="lg-cibaria"><path d="M98 967L150 993L98 1019Z" fill="#5ec4a1" stroke="#3e9c7c" stroke-width="2"/><text class="lg" x="180" y="1007">W. cibaria</text></g>
<g id="lg-hellenica"><path d="M98 1049L150 1075L98 1101Z" fill="#dfc08f" stroke="#b8996a" stroke-width="2"/><text class="lg" x="180" y="1089">W. hellenica</text></g>
<g id="lg-koreensis"><path d="M98 1130L150 1156L98 1182Z" fill="#fa8a5a" stroke="#cc6a3e" stroke-width="2"/><text class="lg" x="180" y="1170">W. koreensis</text></g>
<g id="lg-paramesenteroides"><path d="M98 1212L150 1238L98 1264Z" fill="#8b9fd0" stroke="#6879ab" stroke-width="2"/><text class="lg" x="180" y="1252">W. paramesenteroides</text></g>
<g id="lg-soli"><path d="M98 1293L150 1319L98 1345Z" fill="#e185c6" stroke="#b862a0" stroke-width="2"/><text class="lg" x="180" y="1333">W. soli</text></g>
<g id="lg-thailandensis"><path d="M98 1374L150 1400L98 1426Z" fill="#a0d84a" stroke="#7cae2e" stroke-width="2"/><text class="lg" x="180" y="1414">W. thailandensis</text></g>
<g id="lg-viridescens"><path d="M98 1456L150 1482L98 1508Z" fill="#fdd528" stroke="#d1ab10" stroke-width="2"/><text class="lg" x="180" y="1496">W. viridescens</text></g>
</g>
</svg>
